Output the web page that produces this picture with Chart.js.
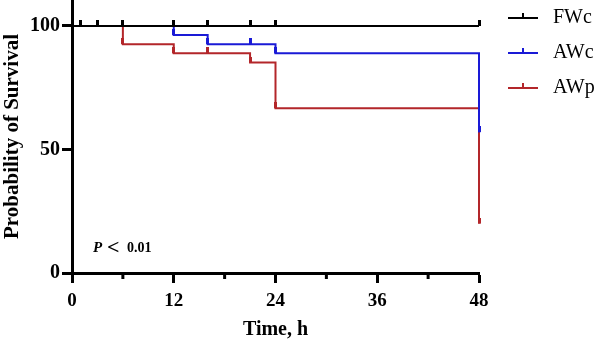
<!DOCTYPE html>
<html>
<head>
<meta charset="utf-8">
<script src="https://cdn.jsdelivr.net/npm/chart.js@4"></script>
<style>
  body { margin: 0; background: #fff; }
  #wrap { width: 595px; height: 342px; position: relative; }
</style>
</head>
<body>
<div id="wrap"><canvas id="kmChart"></canvas></div>
<script>
// Kaplan-Meier steps, survival in %
const groups = ["FWc", "AWc", "AWp"];
const colors = ["#000000", "#1a1ad6", "#b3262a"];

const fwcTimes = [0, 48];
const fwcSurv = [100, 100];
const awcTimes = [0, 12, 16, 24, 48];
const awcSurv = [100, 96.3, 92.6, 88.9, 57];
const awpTimes = [0, 6, 12, 21, 24, 48];
const awpSurv = [100, 92.6, 88.9, 85.2, 66.7, 20];

// censor marks (hours)
const fwcCensor = [1, 3, 6, 12, 16, 21, 24, 48];
const awcCensor = [12, 16, 21, 24, 48];
const awpCensor = [6, 12, 16, 21, 24, 48];

const xTicks = [0, 12, 24, 36, 48];
const xMinorTicks = [6, 18, 30, 42];
const yTicks = [0, 50, 100];

const FONT = "'Liberation Serif', 'DejaVu Serif', serif";

function toPoints(times, vals) {
    return times.map((t, i) => ({ x: t, y: vals[i] }));
}

// survival level at time t (step, value changes at the step time)
function survAt(times, vals, t) {
    let v = vals[0];
    for (let i = 0; i < times.length; i++) {
        if (times[i] <= t) v = vals[i];
    }
    return v;
}

// small upward tick used as censor mark
function makeTick(color) {
    const c = document.createElement("canvas");
    c.width = 3;
    c.height = 12;
    const g = c.getContext("2d");
    g.fillStyle = color;
    g.fillRect(0, 0, 3, 6);
    return c;
}

const allTimes = [fwcTimes, awcTimes, awpTimes];
const allSurv = [fwcSurv, awcSurv, awpSurv];
const allCensor = [fwcCensor, awcCensor, awpCensor];

let datasets = [];
groups.forEach((name, i) => {
    datasets.push({
        label: name,
        data: toPoints(allTimes[i], allSurv[i]),
        borderColor: colors[i],
        borderWidth: 2,
        stepped: "before",
        pointRadius: 0,
        fill: false,
        clip: false
    });
});
groups.forEach((name, i) => {
    datasets.push({
        label: name + " censored",
        data: allCensor[i].map(t => ({ x: t, y: survAt(allTimes[i], allSurv[i], t) })),
        showLine: false,
        pointStyle: makeTick(colors[i]),
        pointRadius: 4,
        clip: false,
        order: -1
    });
});

// minor x ticks, legend and p-value text
const extras = {
    id: "extras",
    afterDraw(chart) {
        const ctx = chart.ctx;
        const xs = chart.scales.x;
        const area = chart.chartArea;
        ctx.save();
        ctx.strokeStyle = "#000";
        ctx.lineWidth = 3;
        xMinorTicks.forEach(v => {
            const px = xs.getPixelForValue(v);
            ctx.beginPath();
            ctx.moveTo(px, area.bottom);
            ctx.lineTo(px, area.bottom + 6);
            ctx.stroke();
        });

        // legend
        const legendY = [18, 53, 88];
        groups.forEach((name, i) => {
            const y = legendY[i];
            ctx.strokeStyle = colors[i];
            ctx.lineWidth = 2;
            ctx.beginPath();
            ctx.moveTo(508, y);
            ctx.lineTo(538, y);
            ctx.stroke();
            ctx.fillStyle = colors[i];
            ctx.fillRect(522, y - 5, 2, 5);
            ctx.fillStyle = "#000";
            ctx.font = "20px " + FONT;
            ctx.textBaseline = "middle";
            ctx.textAlign = "left";
            ctx.fillText(name, 553, y);
        });

        // P value
        ctx.fillStyle = "#000";
        ctx.textBaseline = "alphabetic";
        ctx.font = "italic bold 15px " + FONT;
        ctx.fillText("P", 93, 252);
        ctx.font = "bold 22px " + FONT;
        ctx.fillText("<", 107, 254);
        ctx.font = "bold 14px " + FONT;
        ctx.fillText("0.01", 127, 252);
        ctx.restore();
    }
};

new Chart(document.getElementById("kmChart"), {
    type: "line",
    data: { datasets: datasets },
    options: {
        responsive: true,
        maintainAspectRatio: false,
        animation: false,
        layout: { autoPadding: false, padding: { left: 0, right: 116, top: 0, bottom: 0 } },
        plugins: {
            legend: { display: false },
            tooltip: { enabled: false }
        },
        scales: {
            x: {
                type: "linear",
                min: 0,
                max: 48,
                afterBuildTicks: scale => { scale.ticks = xTicks.map(v => ({ value: v })); },
                afterFit: scale => { scale.height = 69; },
                border: { display: true, width: 3, color: "#000" },
                grid: { drawOnChartArea: false, tickLength: 10, tickWidth: 3, tickColor: "#000" },
                ticks: { color: "#000", padding: 7, maxRotation: 0, font: { family: FONT, size: 19, weight: "bold" } },
                title: { display: true, text: "Time, h", color: "#000", padding: { top: 0, bottom: 0 },
                         font: { family: FONT, size: 20, weight: "bold" } }
            },
            y: {
                min: 0,
                max: 110.5,
                afterBuildTicks: scale => { scale.ticks = yTicks.map(v => ({ value: v })); },
                afterFit: scale => {
                    scale.width = 72;
                    scale.paddingTop = 0;
                    scale.paddingBottom = 0;
                },
                border: { display: true, width: 3, color: "#000" },
                grid: { drawOnChartArea: false, tickLength: 10, tickWidth: 3, tickColor: "#000" },
                ticks: { color: "#000", padding: 2, font: { family: FONT, size: 20, weight: "bold" } },
                title: { display: true, text: "Probability of Survival", color: "#000", padding: { top: 0, bottom: 0 },
                         font: { family: FONT, size: 21, weight: "bold" } }
            }
        }
    },
    plugins: [extras]
});
</script>
</body>
</html>
